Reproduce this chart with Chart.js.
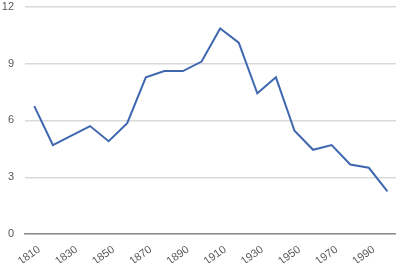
<!DOCTYPE html>
<html>
<head>
<meta charset="utf-8">
<script src="https://cdn.jsdelivr.net/npm/chart.js@4"></script>
<style>
html, body { margin: 0; padding: 0; background: #fff; overflow: hidden; }
#wrap { width: 404px; height: 288px; margin-top: -11px; }
</style>
</head>
<body>
<div id="wrap"><canvas id="chart"></canvas></div>
<script>
const years = ["1810","1820","1830","1840","1850","1860","1870","1880","1890","1900",
  "1910","1920","1930","1940","1950","1960","1970","1980","1990","2000"];
const values = [6.75, 4.7, 5.2, 5.7, 4.9, 5.85, 8.27, 8.6, 8.6, 9.1,
  10.85, 10.1, 7.43, 8.27, 5.45, 4.45, 4.7, 3.67, 3.5, 2.25];
const yTicks = [0, 3, 6, 9, 12];

const ctx = document.getElementById("chart").getContext("2d");

new Chart(ctx, {
  type: "line",
  data: {
    labels: years,
    datasets: [{
      data: values,
      borderColor: "#4068b0",
      borderWidth: 2,
      pointRadius: 0,
      tension: 0,
      fill: false
    }]
  },
  options: {
    responsive: true,
    maintainAspectRatio: false,
    animation: false,
    layout: { padding: 0 },
    plugins: { legend: { display: false }, tooltip: { enabled: false } },
    scales: {
      x: {
        offset: true,
        grid: { display: false, drawTicks: false },
        border: { display: true, color: "#8c8c8c", width: 1.5 },
        ticks: {
          autoSkip: false,
          minRotation: 35,
          maxRotation: 35,
          padding: 9,
          labelOffset: 5,
          color: "#595959",
          font: { family: "Liberation Sans", size: 11 },
          callback: function(val, i) { return i % 2 === 0 ? years[i] : ""; }
        }
      },
      y: {
        min: 0,
        max: 12,
        afterBuildTicks: function(axis) { axis.ticks = yTicks.map(v => ({ value: v })); },
        afterFit: function(axis) { axis.width = 25; },
        grid: { color: "#d9d9d9", lineWidth: 1.5, drawTicks: false },
        border: { display: false },
        ticks: {
          padding: 11,
          color: "#595959",
          font: { family: "Liberation Sans", size: 11 }
        }
      }
    }
  }
});
</script>
</body>
</html>
